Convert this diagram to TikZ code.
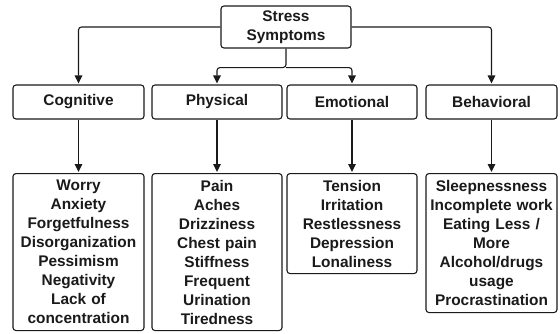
\documentclass[tikz,border=0pt]{standalone}
\usepackage{fontspec}
\setmainfont{Liberation Sans}
\usetikzlibrary{arrows.meta,calc}
\definecolor{ink}{HTML}{1A1A1A}
\tikzset{
  box/.style={draw=ink, line width=1.1pt, rounded corners=3pt, fill=white,
    text=ink, font=\fontsize{15.4}{19}\selectfont\bfseries, align=center,
    inner sep=0pt},
  head/.style={box, minimum width=130pt, minimum height=34pt},
  list/.style={box, anchor=north, text width=128pt, minimum width=130pt},
  conn/.style={draw=ink, line width=1.1pt, rounded corners=3pt,
    -{Triangle[length=8pt,width=7.5pt]}, shorten >=1pt}
}
\begin{document}
\begin{tikzpicture}[x=1pt,y=-1pt]
  \useasboundingbox (0,0) rectangle (560,333);
  % root
  \node[box, minimum width=130pt, minimum height=42pt] (root) at (286,27) {Stress\\Symptoms};
  % categories
  \node[head, minimum width=131pt] (cog) at (78.5,102) {Cognitive};
  \node[head] (phy) at (217,102) {Physical};
  \node[head] (emo) at (352,102) {Emotional};
  \node[head, minimum width=131pt] (beh) at (491.5,102) {Behavioral};
  % symptom lists
  \node[list, minimum width=131pt, minimum height=157pt] (cogL) at (78.5,173)
    {Worry\\Anxiety\\Forgetfulness\\Disorganization\\Pessimism\\Negativity\\Lack of\\concentration};
  \node[list, minimum height=157pt] (phyL) at (217,173)
    {Pain\\Aches\\Drizziness\\Chest pain\\Stiffness\\Frequent\\Urination\\Tiredness};
  \node[list, minimum height=100pt] (emoL) at (352,173)
    {Tension\\Irritation\\Restlessness\\Depression\\Lonaliness};
  \node[list, minimum width=131pt, minimum height=139pt] (behL) at (491.5,173)
    {Sleepnessness\\Incomplete work\\Eating Less /\\More\\Alcohol/drugs\\usage\\Procrastination};
  % connectors from the root
  \draw[conn] (root.west) -| (cog.north);
  \draw[conn] (root.east) -| (beh.north);
  \coordinate (j) at ($(root.south)+(0,19)$);
  \draw[conn] (root.south) -- (j) -| (phy.north);
  \draw[conn] (j) -| (emo.north);
  % connectors to the lists
  \draw[conn] (cog.south) -- (cogL.north);
  \draw[conn] (phy.south) -- (phyL.north);
  \draw[conn] (emo.south) -- (emoL.north);
  \draw[conn] (beh.south) -- (behL.north);
\end{tikzpicture}
\end{document}
